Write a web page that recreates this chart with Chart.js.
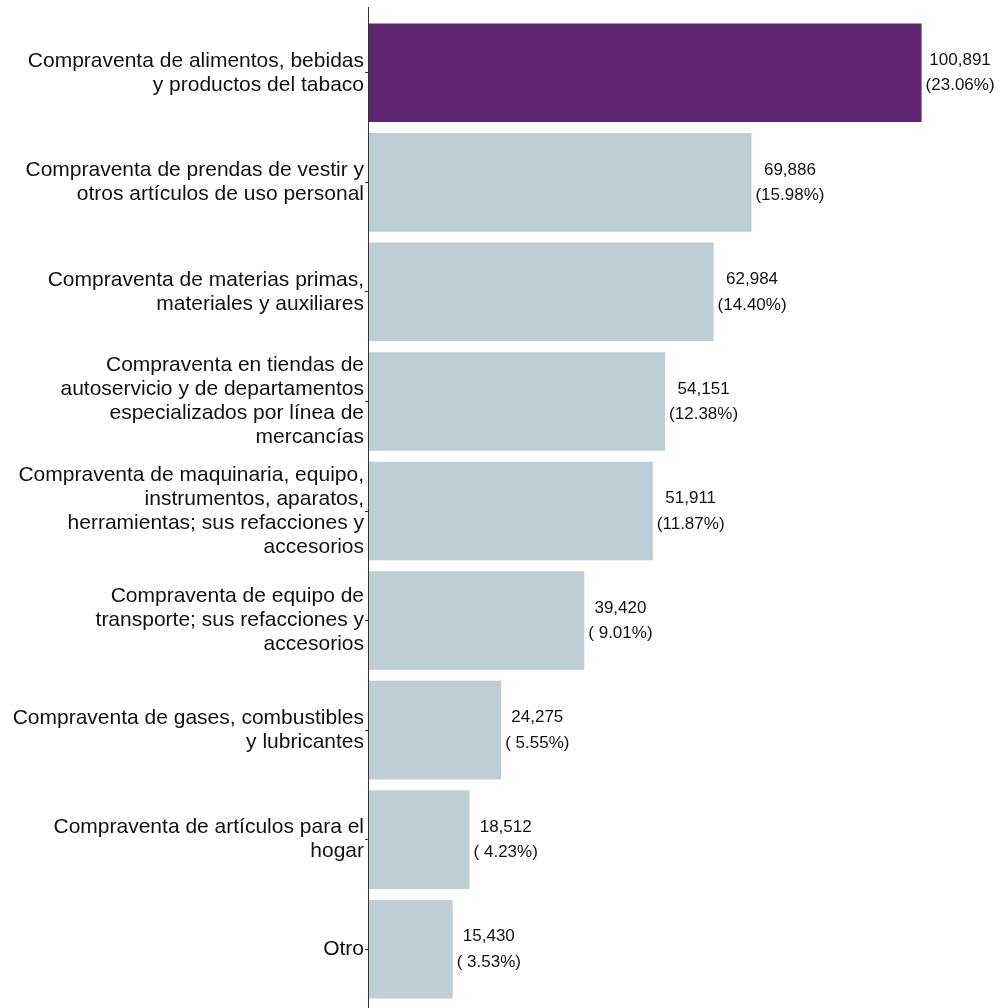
<!DOCTYPE html>
<html lang="es">
<head>
  <meta charset="UTF-8">
  <title>Compraventa</title>
  <script src="https://cdn.jsdelivr.net/npm/chart.js"></script>
  <style>
    html, body { margin: 0; padding: 0; background: #fff; }
    #wrap { width: 1002px; height: 1008px; position: relative; }
  </style>
</head>
<body>
  <div id="wrap"><canvas id="barChart"></canvas></div>

  <script>
    const categories = [
      ['Compraventa de alimentos, bebidas', 'y productos del tabaco'],
      ['Compraventa de prendas de vestir y', 'otros artículos de uso personal'],
      ['Compraventa de materias primas,', 'materiales y auxiliares'],
      ['Compraventa en tiendas de', 'autoservicio y de departamentos', 'especializados por línea de', 'mercancías'],
      ['Compraventa de maquinaria, equipo,', 'instrumentos, aparatos,', 'herramientas; sus refacciones y', 'accesorios'],
      ['Compraventa de equipo de', 'transporte; sus refacciones y', 'accesorios'],
      ['Compraventa de gases, combustibles', 'y lubricantes'],
      ['Compraventa de artículos para el', 'hogar'],
      'Otro'
    ];
    const values = [100891, 69886, 62984, 54151, 51911, 39420, 24275, 18512, 15430];
    const percents = [23.06, 15.98, 14.40, 12.38, 11.87, 9.01, 5.55, 4.23, 3.53];

    const highlight = '#5f2470';
    const normal = '#bdced6';

    // two-line value labels to the right of each bar
    const valueLabels = {
      id: 'valueLabels',
      afterDatasetsDraw(chart) {
        const ctx = chart.ctx;
        const meta = chart.getDatasetMeta(0);
        ctx.save();
        ctx.font = '17px "Liberation Sans", Arial, sans-serif';
        ctx.fillStyle = '#111';
        ctx.textAlign = 'center';
        ctx.textBaseline = 'middle';
        meta.data.forEach((bar, i) => {
          const l1 = values[i].toLocaleString('en-US');
          const p = percents[i].toFixed(2);
          const l2 = '(' + (percents[i] < 10 ? ' ' : '') + p + '%)';
          const w = Math.max(ctx.measureText(l1).width, ctx.measureText(l2).width);
          const cx = bar.x + 4 + w / 2;
          ctx.fillText(l1, cx, bar.y - 12.5);
          ctx.fillText(l2, cx, bar.y + 13);
        });
        ctx.restore();
      }
    };

    // left axis line running past the plot area
    const axisLine = {
      id: 'axisLine',
      afterDraw(chart) {
        const ctx = chart.ctx;
        const x = Math.round(chart.chartArea.left) + 0.5;
        ctx.save();
        ctx.strokeStyle = '#333';
        ctx.lineWidth = 1;
        ctx.beginPath();
        ctx.moveTo(x, 7);
        ctx.lineTo(x, 1008);
        ctx.stroke();
        ctx.restore();
      }
    };

    const ctx = document.getElementById('barChart').getContext('2d');
    const barChart = new Chart(ctx, {
      type: 'bar',
      data: {
        labels: categories,
        datasets: [{
          data: values,
          backgroundColor: values.map((v, i) => i === 0 ? highlight : normal),
          borderWidth: 0,
          barPercentage: 0.9,
          categoryPercentage: 1.0
        }]
      },
      options: {
        indexAxis: 'y',
        responsive: true,
        maintainAspectRatio: false,
        animation: false,
        layout: { padding: { top: 18, bottom: 4, left: 0, right: 3 } },
        plugins: {
          legend: { display: false },
          tooltip: { enabled: false }
        },
        scales: {
          x: {
            display: false,
            min: 0,
            max: 115000
          },
          y: {
            offset: true,
            afterFit(scale) {
              scale.width = 368;
              scale.paddingTop = 0;
              scale.paddingBottom = 0;
            },
            border: { display: false },
            grid: {
              drawOnChartArea: false,
              offset: false,
              tickLength: 3,
              color: '#333'
            },
            ticks: {
              padding: 1,
              color: '#111',
              font: { family: '"Liberation Sans", Arial, sans-serif', size: 21, lineHeight: 1.143 }
            }
          }
        }
      },
      plugins: [valueLabels, axisLine]
    });
  </script>
</body>
</html>
